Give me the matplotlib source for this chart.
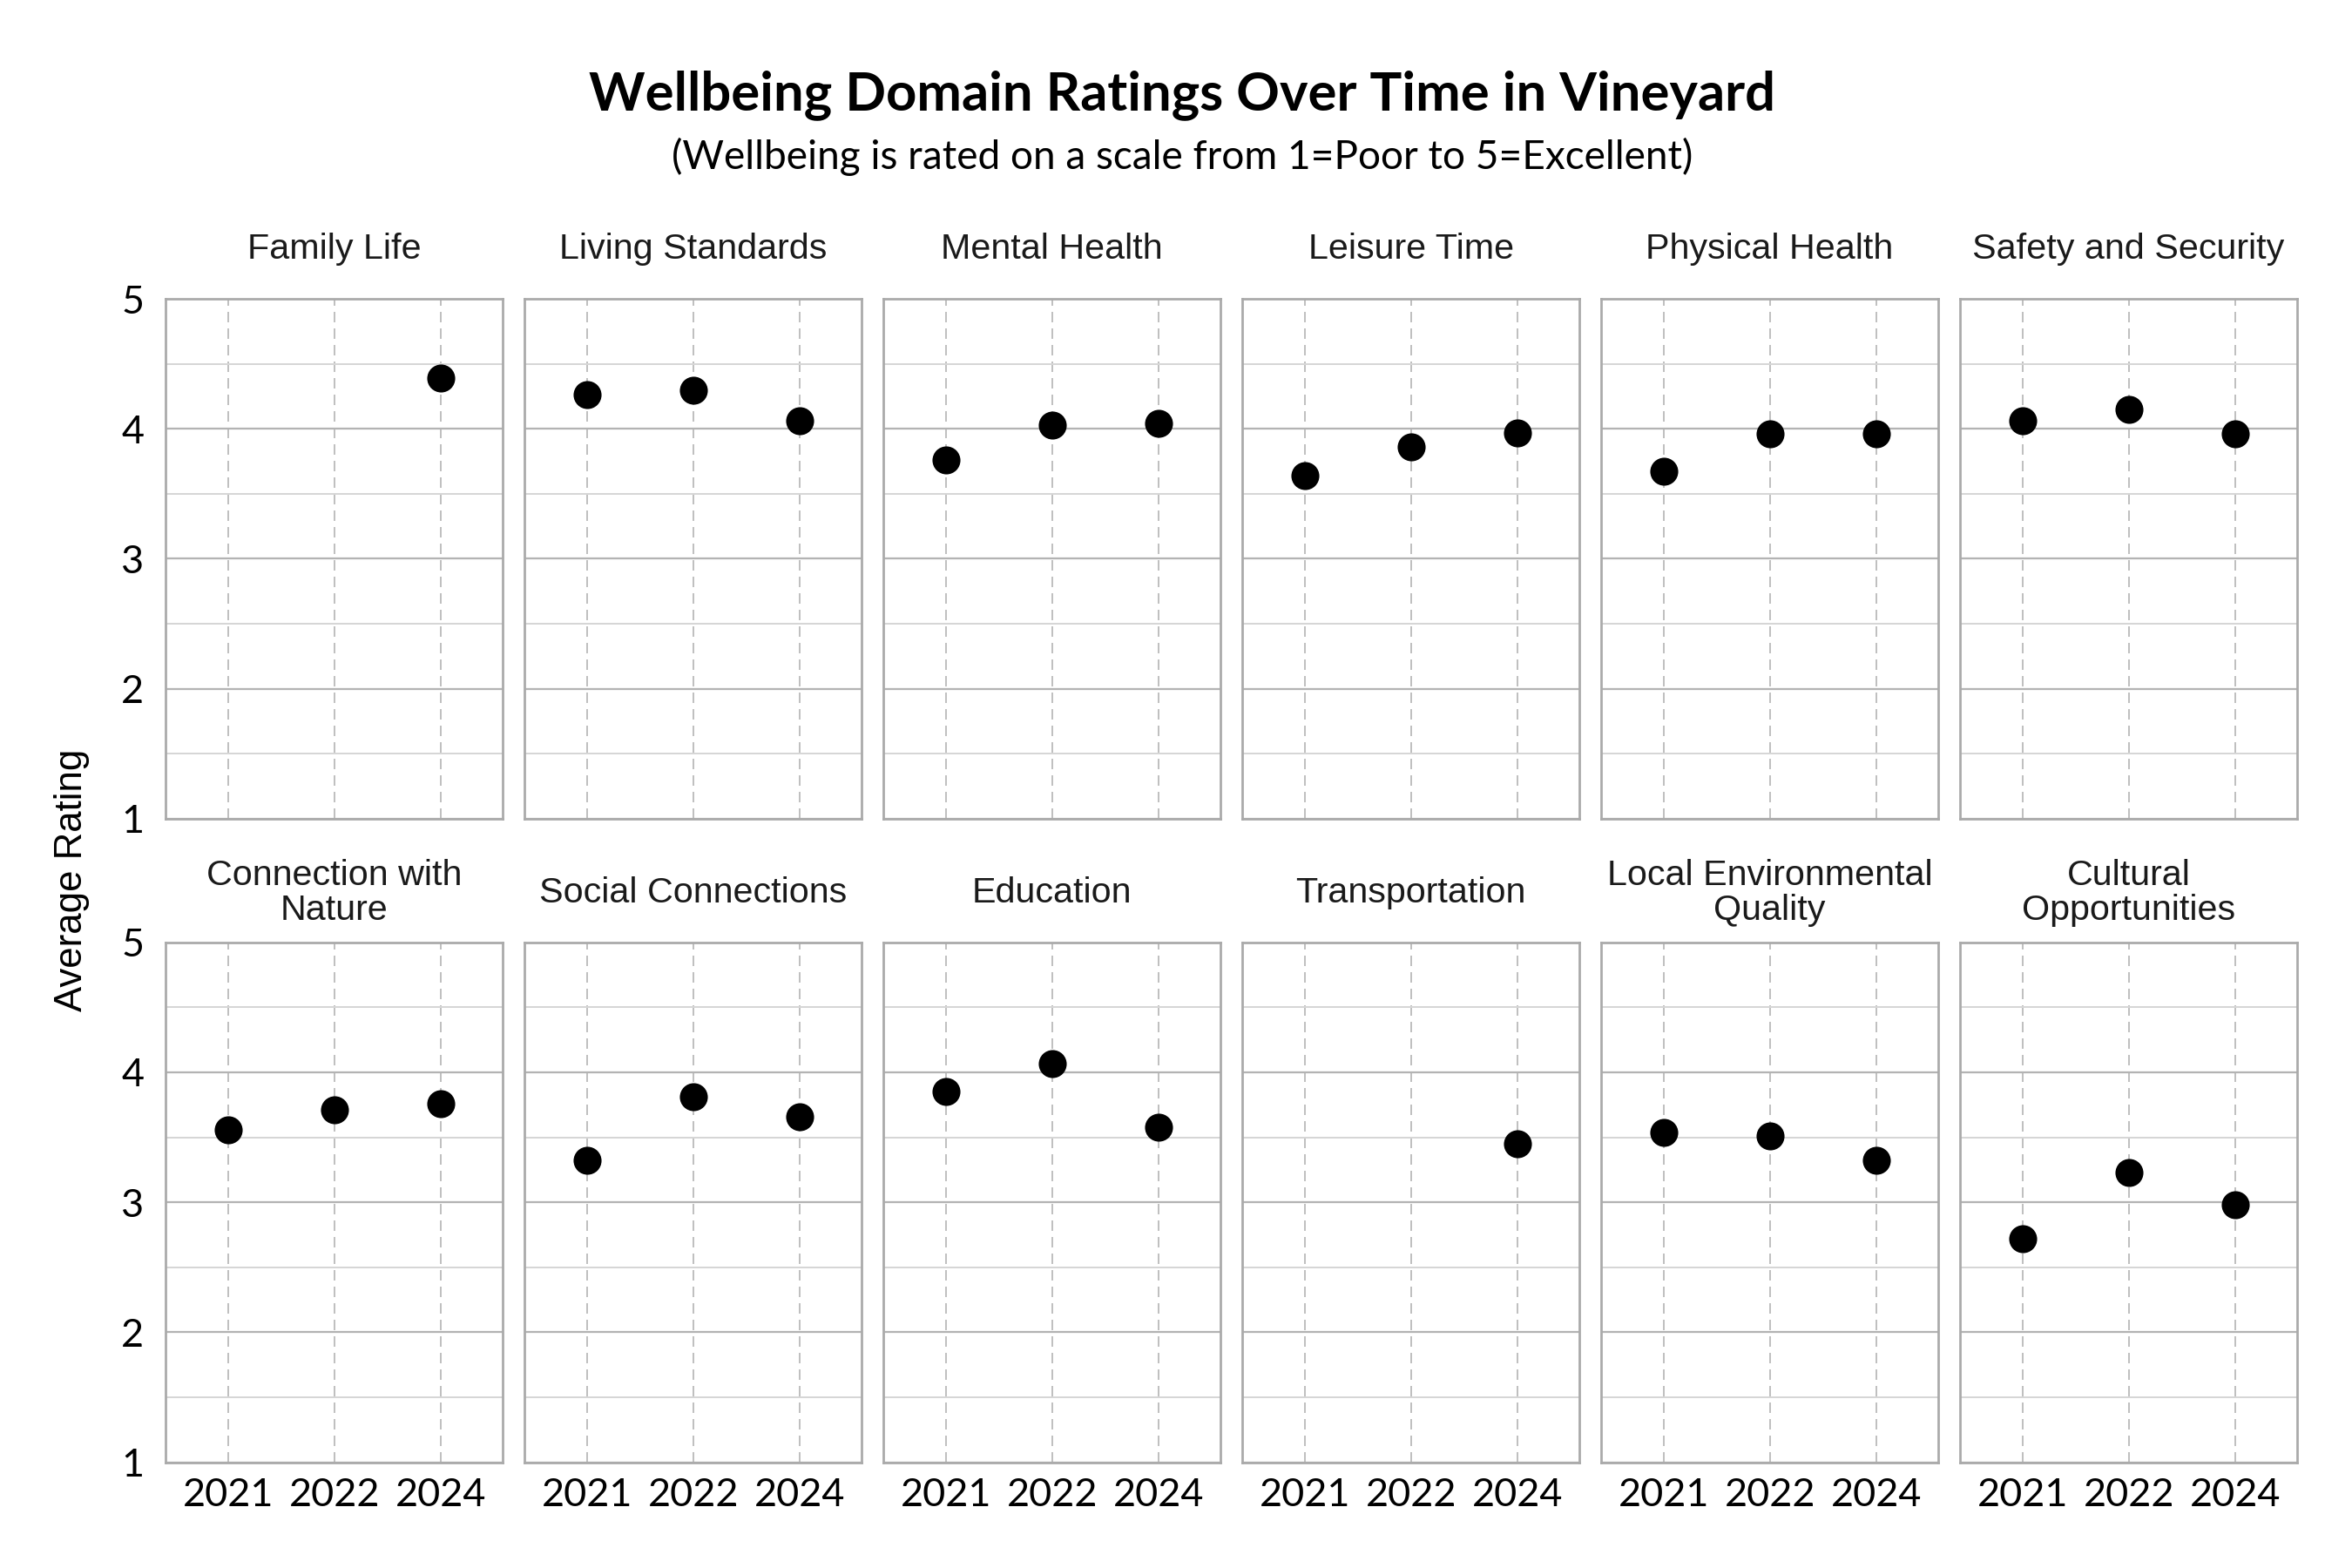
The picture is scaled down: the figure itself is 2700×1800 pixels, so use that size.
import textwrap

import numpy as np
import matplotlib
matplotlib.use('Agg')
import matplotlib.pyplot as plt
from matplotlib.ticker import MultipleLocator

# данные
years = ['2021', '2022', '2024']
domains = [
    'Family Life', 'Living Standards', 'Mental Health', 'Leisure Time',
    'Physical Health', 'Safety and Security', 'Connection with Nature',
    'Social Connections', 'Education', 'Transportation',
    'Local Environmental Quality', 'Cultural Opportunities',
]
nan = np.nan
ratings = [
    [nan, nan, 4.39],
    [4.26, 4.30, 4.06],
    [3.76, 4.03, 4.04],
    [3.64, 3.86, 3.97],
    [3.67, 3.96, 3.96],
    [4.06, 4.15, 3.96],
    [3.56, 3.71, 3.76],
    [3.32, 3.81, 3.66],
    [3.85, 4.07, 3.58],
    [nan, nan, 3.45],
    [3.54, 3.51, 3.32],
    [2.72, 3.23, 2.98],
]

title = 'Wellbeing Domain Ratings Over Time in Vineyard'
subtitle = '(Wellbeing is rated on a scale from 1=Poor to 5=Excellent)'
y_label = 'Average Rating'

tick_font = 'Lato'
panel_font = 'Liberation Sans'

fig, axes = plt.subplots(2, 6, figsize=(15, 10), dpi=180, sharex=True, sharey=True)
fig.subplots_adjust(left=0.0704, right=0.9767, top=0.8094, bottom=0.0675,
                    wspace=0.0646, hspace=0.238)

x = np.arange(len(years))
for ax, name, vals in zip(axes.flat, domains, ratings):
    ax.scatter(x, vals, s=165, color='black', zorder=3, linewidths=0)

    ax.set_xlim(-0.59, 2.58)
    ax.set_ylim(1, 5)
    ax.set_xticks(x)
    ax.set_xticklabels(years)
    ax.yaxis.set_major_locator(MultipleLocator(1))
    ax.yaxis.set_minor_locator(MultipleLocator(0.5))

    # сетка: горизонтальные сплошные, вертикальные пунктиром
    ax.grid(axis='y', which='major', color='#b3b3b3', linewidth=0.9)
    ax.grid(axis='y', which='minor', color='#d6d6d6', linewidth=0.8)
    ax.grid(axis='x', which='major', color='#c0c0c0', linewidth=0.8,
            linestyle=(0, (6, 3.5)))
    ax.set_axisbelow(True)

    for sp in ax.spines.values():
        sp.set_color('#aaaaaa')
        sp.set_linewidth(1.1)

    ax.tick_params(which='both', length=0)
    ax.tick_params(axis='y', pad=10, labelsize=18)
    ax.tick_params(axis='x', pad=7, labelsize=18)
    for lab in ax.get_xticklabels() + ax.get_yticklabels():
        lab.set_fontfamily(tick_font)

    # заголовок панели, центрирован по вертикали над осью
    ax.text(0.5, 1.095, textwrap.fill(name, 19), transform=ax.transAxes,
            ha='center', va='center', fontsize=16.5, family=panel_font,
            color='#1a1a1a', linespacing=1.05)

fig.text(0.5025, 0.9395, title, ha='center', va='center', fontsize=24.6,
         fontweight='bold', family=tick_font)
fig.text(0.5025, 0.9, subtitle, ha='center', va='center', fontsize=18.4,
         family=tick_font)
fig.text(0.0305, 0.4385, y_label, ha='center', va='center', rotation=90,
         fontsize=17.5, family=panel_font)

fig.savefig('out.png', dpi=180)
